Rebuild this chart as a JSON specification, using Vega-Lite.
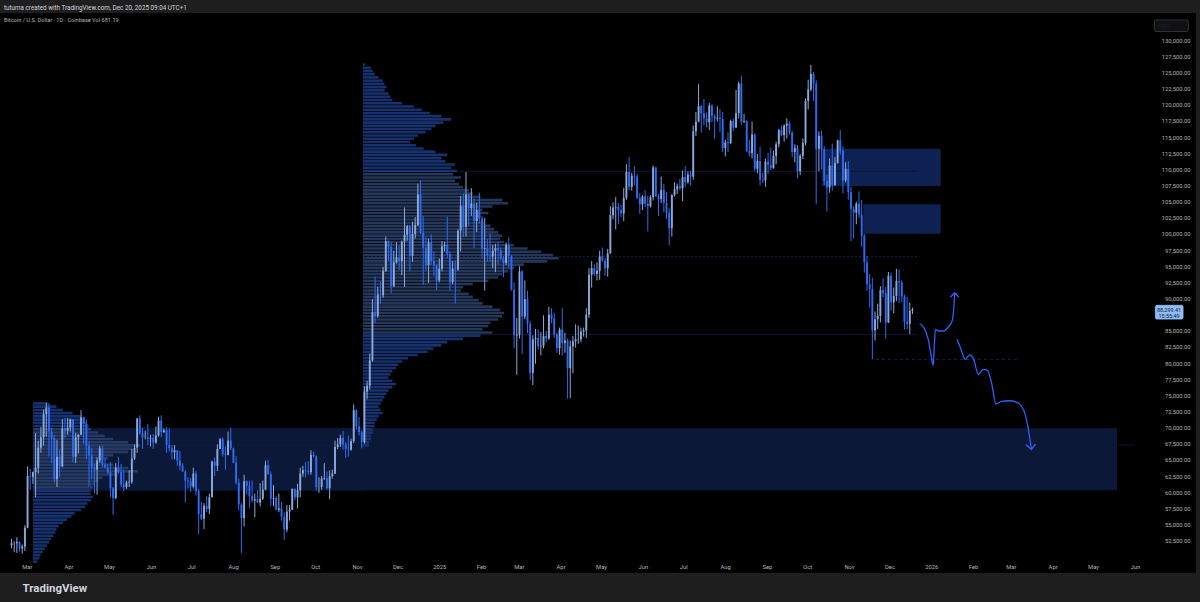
{
"$schema": "https://vega.github.io/schema/vega-lite/v6.json",
"width": 1196, "height": 560,
"autosize": {"type": "none"},
"padding": {"left": 0, "top": 13, "right": 4, "bottom": 29},
"background": "#1e1e1e",
"config": {
  "view": {"fill": "#000000", "stroke": null},
  "axis": {"grid": false, "domain": false, "ticks": false, "labelColor": "#b2b5be", "labelFont": "Roboto", "labelFontSize": 5.8, "zindex": 2}
},
"title": {"text": "tutuma created with TradingView.com, Dec 20, 2025 09:04 UTC+1", "subtitle": "Bitcoin / U.S. Dollar · 1D · Coinbase   Vol 681.19", "anchor": "start", "frame": "group", "orient": "top", "offset": -11, "dx": 4, "font": "Roboto", "fontSize": 6.3, "fontWeight": "normal", "color": "#d1d4dc", "subtitleFont": "Roboto", "subtitleFontSize": 5.6, "subtitleColor": "#b2b5be", "subtitlePadding": 7},
"resolve": {"scale": {"x": "independent"}, "axis": {"y": "independent"}},
"layer": [
  {
    "data": {"values": [
      {"zone": "demand", "s": "2024-03-05T12:00Z", "e": "2026-05-18T19:00Z", "lo": 60.3, "hi": 69.9},
      {"zone": "supply", "s": "2025-10-12T00:00Z", "e": "2026-01-08T00:00Z", "lo": 107.44, "hi": 113.22},
      {"zone": "supply", "s": "2025-11-11T12:00Z", "e": "2026-01-08T00:00Z", "lo": 100.03, "hi": 104.6}
    ]},
    "mark": {"type": "rect"},
    "encoding": {
      "x": {"field": "s", "type": "temporal", "scale": {"type": "utc", "domain": [{"year": 2024, "month": 2, "date": 10, "hours": 3, "utc": true}, {"year": 2026, "month": 7, "date": 16, "hours": 9, "utc": true}]},
        "axis": {"values": [{"year": 2024, "month": 3, "utc": true}, {"year": 2024, "month": 4, "utc": true}, {"year": 2024, "month": 5, "utc": true}, {"year": 2024, "month": 6, "utc": true}, {"year": 2024, "month": 7, "utc": true}, {"year": 2024, "month": 8, "utc": true}, {"year": 2024, "month": 9, "utc": true}, {"year": 2024, "month": 10, "utc": true}, {"year": 2024, "month": 11, "utc": true}, {"year": 2024, "month": 12, "utc": true}, {"year": 2025, "month": 1, "utc": true}, {"year": 2025, "month": 2, "utc": true}, {"year": 2025, "month": 3, "utc": true}, {"year": 2025, "month": 4, "utc": true}, {"year": 2025, "month": 5, "utc": true}, {"year": 2025, "month": 6, "utc": true}, {"year": 2025, "month": 7, "utc": true}, {"year": 2025, "month": 8, "utc": true}, {"year": 2025, "month": 9, "utc": true}, {"year": 2025, "month": 10, "utc": true}, {"year": 2025, "month": 11, "utc": true}, {"year": 2025, "month": 12, "utc": true}, {"year": 2026, "month": 1, "utc": true}, {"year": 2026, "month": 2, "utc": true}, {"year": 2026, "month": 3, "utc": true}, {"year": 2026, "month": 4, "utc": true}, {"year": 2026, "month": 5, "utc": true}, {"year": 2026, "month": 6, "utc": true}],
          "labelExpr": "utcFormat(datum.value, '%m') == '01' ? utcFormat(datum.value, '%Y') : utcFormat(datum.value, '%b')",
          "labelPadding": -6.3, "labelBaseline": "middle", "labelFlush": false, "labelOverlap": false, "labelBound": false,
          "title": "TradingView", "titleX": 22, "titleY": 15, "titleAlign": "left", "titleAnchor": "start", "titleBaseline": "middle", "titleFont": "Roboto", "titleFontSize": 11.5, "titleFontWeight": "bold", "titleColor": "#d1d4dc"}},
      "x2": {"field": "e"},
      "y": {"field": "lo", "type": "quantitative", "scale": {"domain": [48.26, 133.454], "nice": false, "zero": false},
        "axis": {"orient": "right", "values": [52.5, 55, 57.5, 60, 62.5, 65, 67.5, 70, 72.5, 75, 77.5, 80, 82.5, 85, 90, 92.5, 95, 97.5, 100, 102.5, 105, 107.5, 110, 112.5, 115, 117.5, 120, 122.5, 125, 127.5, 130],
          "labelExpr": "format(datum.value * 1000, ',.2f')", "labelAlign": "right", "labelPadding": -6, "labelBaseline": "middle", "labelOverlap": false, "labelBound": false, "labelFlush": false, "title": null}},
      "y2": {"field": "hi"},
      "color": {"field": "zone", "type": "nominal", "scale": {"domain": ["demand", "supply"], "range": ["#0b1838", "#0d2152"]}, "legend": null}
    }
  },
  {
    "data": {"values": [
      {"k": "va", "s": "2024-03-05T12:00Z", "e": "2024-11-05T10:00Z", "p": 69.9},
      {"k": "va", "s": "2024-03-05T12:00Z", "e": "2024-11-05T10:00Z", "p": 60.3},
      {"k": "va", "s": "2024-11-05T10:00Z", "e": "2025-12-21T10:00Z", "p": 109.7},
      {"k": "va", "s": "2024-11-05T10:00Z", "e": "2025-12-21T10:00Z", "p": 84.45},
      {"k": "poc", "s": "2024-03-05T12:00Z", "e": "2024-11-05T10:00Z", "p": 67.3},
      {"k": "pocext", "s": "2024-11-05T10:00Z", "e": "2026-05-31T10:00Z", "p": 67.3},
      {"k": "poc", "s": "2024-11-05T10:00Z", "e": "2025-12-21T10:00Z", "p": 96.5},
      {"k": "low", "s": "2025-11-21T00:00Z", "e": "2026-03-05T14:00Z", "p": 80.55}
    ]},
    "mark": {"type": "rule", "strokeWidth": 1},
    "encoding": {
      "x": {"field": "s", "type": "temporal", "scale": {"type": "utc", "domain": [{"year": 2024, "month": 2, "date": 10, "hours": 3, "utc": true}, {"year": 2026, "month": 7, "date": 16, "hours": 9, "utc": true}]}, "axis": null},
      "x2": {"field": "e"},
      "y": {"field": "p", "type": "quantitative", "scale": {"domain": [48.26, 133.454], "nice": false, "zero": false}, "axis": null},
      "color": {"field": "k", "type": "nominal", "scale": {"domain": ["va", "poc", "pocext", "low"], "range": ["#6a6d78", "#7a2d2d", "#3d3434", "#2a9cb0"]}, "legend": null},
      "strokeDash": {"field": "k", "type": "nominal", "scale": {"domain": ["va", "poc", "pocext", "low"], "range": [[1, 0], [2, 2], [1, 0], [3, 3]]}, "legend": null}
    }
  },
  {
    "data": {"values": "p,v\n73.75,14\n73.25,22\n72.75,28\n72.25,37\n71.75,45\n71.25,49\n70.75,50\n70.25,52\n69.75,54\n69.25,61\n68.75,67\n68.25,75\n67.75,89\n67.25,100\n66.75,93\n66.25,89\n65.75,75\n65.25,70\n64.75,65\n64.25,75\n63.75,89\n63.25,98\n62.75,79\n62.25,65\n61.75,61\n61.25,58\n60.75,56\n60.25,54\n59.75,54\n59.25,56\n58.75,54\n58.25,51\n57.75,49\n57.25,45\n56.75,39\n56.25,36\n55.75,32\n55.25,28\n54.75,24\n54.25,22\n53.75,21\n53.25,19\n52.75,17\n52.25,15\n51.75,13\n51.25,11\n50.75,9\n50.25,7\n49.75,6\n49.25,4", "format": {"type": "csv", "parse": {"p": "number", "v": "number"}}},
    "mark": {"type": "bar", "orient": "horizontal", "size": 2.6, "opacity": 0.85},
    "encoding": {
      "x": {"field": "v", "type": "quantitative", "scale": {"domain": [-30.84, 1086.9], "nice": false, "zero": false}, "axis": null},
      "y": {"field": "p", "type": "quantitative", "scale": {"domain": [48.26, 133.454], "nice": false, "zero": false}, "axis": null},
      "color": {"condition": {"test": "datum.p >= 60.3 && datum.p <= 69.9", "value": "#2a4068"}, "value": "#1a3980"}
    }
  },
  {
    "data": {"values": "p,v\n126.25,1\n125.75,4\n125.25,5\n124.75,6\n124.25,8\n123.75,10\n123.25,11\n122.75,12\n122.25,11\n121.75,13\n121.25,14\n120.75,15\n120.25,20\n119.75,26\n119.25,30\n118.75,34\n118.25,40\n117.75,45\n117.25,41\n116.75,37\n116.25,35\n115.75,32\n115.25,28\n114.75,26\n114.25,24\n113.75,27\n113.25,31\n112.75,37\n112.25,43\n111.75,40\n111.25,42\n110.75,47\n110.25,45\n109.75,48\n109.25,46\n108.75,50\n108.25,47\n107.75,49\n107.25,51\n106.75,54\n106.25,56\n105.75,60\n105.25,71\n104.75,74\n104.25,66\n103.75,61\n103.25,64\n102.75,60\n102.25,59\n101.75,62\n101.25,65\n100.75,67\n100.25,69\n99.75,71\n99.25,70\n98.75,72\n98.25,77\n97.75,84\n97.25,91\n96.75,97\n96.25,100\n95.75,94\n95.25,82\n94.75,77\n94.25,74\n93.75,71\n93.25,69\n92.75,64\n92.25,56\n91.75,51\n91.25,50\n90.75,54\n90.25,56\n89.75,59\n89.25,61\n88.75,66\n88.25,70\n87.75,72\n87.25,71\n86.75,69\n86.25,65\n85.75,64\n85.25,61\n84.75,66\n84.25,60\n83.75,51\n83.25,43\n82.75,40\n82.25,36\n81.75,33\n81.25,28\n80.75,23\n80.25,20\n79.75,18\n79.25,17\n78.75,15\n78.25,14\n77.75,13\n77.25,15\n76.75,17\n76.25,15\n75.75,13\n75.25,12\n74.75,11\n74.25,10\n73.75,9\n73.25,8\n72.75,9\n72.25,10\n71.75,8\n71.25,7\n70.75,6\n70.25,6\n69.75,5\n69.25,5\n68.75,4\n68.25,4\n67.75,3\n67.25,3", "format": {"type": "csv", "parse": {"p": "number", "v": "number"}}},
    "mark": {"type": "bar", "orient": "horizontal", "size": 2.6, "opacity": 0.85},
    "encoding": {
      "x": {"field": "v", "type": "quantitative", "scale": {"domain": [-185.2, 425.0], "nice": false, "zero": false}, "axis": null},
      "y": {"field": "p", "type": "quantitative", "scale": {"domain": [48.26, 133.454], "nice": false, "zero": false}, "axis": null},
      "color": {"condition": {"test": "datum.p >= 84.45 && datum.p <= 109.7", "value": "#2a4068"}, "value": "#1a3980"}
    }
  },
  {
    "layer": [
      {
        "data": {"values": "d,o,h,l,c\n2024-02-15,51.8,52.8,51.3,52.1\n2024-02-17,52.1,52.4,50.7,52.1\n2024-02-19,52.1,53.0,50.6,52.3\n2024-02-21,52.3,52.4,50.8,51.3\n2024-02-23,51.3,51.9,50.5,51.6\n2024-02-25,51.6,54.9,50.9,54.5\n2024-02-27,54.5,64.0,54.4,62.5\n2024-02-29,62.5,63.6,60.4,62.4\n2024-03-02,62.4,63.2,61.3,63.1\n2024-03-04,63.1,69.2,59.2,63.8\n2024-03-06,63.8,68.0,62.9,66.9\n2024-03-08,66.9,70.1,66.1,68.5\n2024-03-10,68.5,72.8,67.2,72.1\n2024-03-12,72.1,73.8,68.6,73.1\n2024-03-14,73.1,73.8,65.5,69.4\n2024-03-16,69.4,70.0,64.5,68.4\n2024-03-18,68.4,68.9,61.5,62.0\n2024-03-20,62.0,68.1,60.8,65.5\n2024-03-22,65.5,66.6,62.3,64.0\n2024-03-24,64.0,71.3,63.9,69.9\n2024-03-26,69.9,71.5,68.4,69.5\n2024-03-28,69.5,71.5,68.9,70.0\n2024-03-30,70.0,71.4,69.4,71.3\n2024-04-01,71.3,71.3,64.6,65.5\n2024-04-03,65.5,69.2,64.5,68.5\n2024-04-05,68.5,69.0,66.0,68.9\n2024-04-07,68.9,72.7,68.9,71.6\n2024-04-09,71.6,71.7,67.5,70.6\n2024-04-11,70.6,71.2,65.1,67.2\n2024-04-13,67.2,67.9,60.9,65.7\n2024-04-15,65.7,66.8,62.0,63.8\n2024-04-17,63.8,64.5,59.8,63.5\n2024-04-19,63.5,65.4,59.6,64.9\n2024-04-21,64.9,67.2,64.5,66.8\n2024-04-23,66.8,67.2,63.9,64.3\n2024-04-25,64.3,65.3,63.7,63.8\n2024-04-27,63.8,64.4,62.8,63.1\n2024-04-29,63.1,64.7,59.2,60.6\n2024-05-01,60.6,60.8,56.5,59.1\n2024-05-03,59.1,64.5,58.9,63.8\n2024-05-05,63.8,65.5,62.9,63.1\n2024-05-07,63.1,64.4,60.8,61.2\n2024-05-09,61.2,63.5,60.2,60.8\n2024-05-11,60.8,61.8,60.5,61.5\n2024-05-13,61.5,63.4,60.8,61.6\n2024-05-15,61.6,66.7,61.3,65.2\n2024-05-17,65.2,67.4,65.0,66.9\n2024-05-19,66.9,71.5,66.1,71.4\n2024-05-21,71.4,71.9,68.9,69.1\n2024-05-23,69.1,70.0,66.7,68.5\n2024-05-25,68.5,69.5,68.2,68.5\n2024-05-27,68.5,70.6,67.3,68.3\n2024-05-29,68.3,68.9,67.1,68.4\n2024-05-31,68.4,69.0,66.7,67.7\n2024-06-02,67.7,70.2,67.5,68.8\n2024-06-04,68.8,71.7,68.6,71.1\n2024-06-06,71.1,71.9,68.5,69.3\n2024-06-08,69.3,69.9,69.2,69.6\n2024-06-10,69.6,70.1,66.1,67.3\n2024-06-12,67.3,69.9,66.3,66.8\n2024-06-14,66.8,67.3,65.1,66.2\n2024-06-16,66.2,67.3,65.1,66.5\n2024-06-18,66.5,66.5,64.1,64.9\n2024-06-20,64.9,66.4,63.4,64.1\n2024-06-22,64.1,64.5,63.2,63.2\n2024-06-24,63.2,63.4,58.4,61.8\n2024-06-26,61.8,62.3,60.6,61.7\n2024-06-28,61.7,62.2,60.1,60.9\n2024-06-30,60.9,63.8,60.6,62.9\n2024-07-02,62.9,63.3,59.5,60.2\n2024-07-04,60.2,60.5,53.5,56.6\n2024-07-06,56.6,58.5,55.7,55.9\n2024-07-08,55.9,58.3,54.3,57.9\n2024-07-10,57.9,59.4,56.9,57.4\n2024-07-12,57.4,59.8,56.6,59.2\n2024-07-14,59.2,64.9,59.2,64.7\n2024-07-16,64.7,65.4,62.5,64.1\n2024-07-18,64.1,67.4,63.3,66.7\n2024-07-20,66.7,68.4,66.7,68.2\n2024-07-22,68.2,68.5,65.5,65.9\n2024-07-24,65.9,67.1,63.5,65.8\n2024-07-26,65.8,69.4,65.7,68.0\n2024-07-28,68.0,70.0,66.5,66.8\n2024-07-30,66.8,66.9,64.5,64.6\n2024-08-01,64.6,65.6,61.2,61.5\n2024-08-03,61.5,62.1,57.2,58.1\n2024-08-05,58.1,58.3,50.6,56.0\n2024-08-07,56.0,62.7,54.7,61.7\n2024-08-09,61.7,61.8,59.6,61.0\n2024-08-11,61.0,61.8,57.6,59.4\n2024-08-13,59.4,61.8,58.4,58.7\n2024-08-15,58.7,59.8,56.1,58.9\n2024-08-17,58.9,60.3,58.3,58.4\n2024-08-19,58.4,61.4,57.8,59.0\n2024-08-21,59.0,61.8,58.8,60.4\n2024-08-23,60.4,64.9,60.3,64.2\n2024-08-25,64.2,65.0,62.7,62.8\n2024-08-27,62.8,63.2,57.9,59.0\n2024-08-29,59.0,61.1,57.8,59.1\n2024-08-31,59.1,59.4,57.2,57.3\n2024-09-02,57.3,59.8,56.9,57.5\n2024-09-04,57.5,58.5,55.6,56.2\n2024-09-06,56.2,56.9,52.6,54.2\n2024-09-08,54.2,58.0,53.8,57.0\n2024-09-10,57.0,58.0,55.6,57.3\n2024-09-12,57.3,60.6,57.2,60.5\n2024-09-14,60.5,60.6,58.7,59.2\n2024-09-16,59.2,61.3,57.5,60.3\n2024-09-18,60.3,63.8,59.2,62.9\n2024-09-20,62.9,64.1,62.4,63.4\n2024-09-22,63.4,64.7,62.3,63.3\n2024-09-24,63.3,64.8,62.7,63.1\n2024-09-26,63.1,66.5,62.7,65.8\n2024-09-28,65.8,66.3,65.4,65.6\n2024-09-30,65.6,65.7,60.2,60.8\n2024-10-02,60.8,62.3,59.9,60.8\n2024-10-04,60.8,62.5,60.4,62.1\n2024-10-06,62.1,64.5,61.9,62.2\n2024-10-08,62.2,63.2,60.4,60.6\n2024-10-10,60.6,63.4,58.9,62.5\n2024-10-12,62.5,63.5,62.1,62.9\n2024-10-14,62.9,68.0,62.8,67.0\n2024-10-16,67.0,68.4,66.7,67.4\n2024-10-18,67.4,68.9,67.0,68.4\n2024-10-20,68.4,69.5,66.6,67.4\n2024-10-22,67.4,67.8,65.3,66.7\n2024-10-24,66.7,68.8,65.5,66.6\n2024-10-26,66.6,68.3,66.4,67.9\n2024-10-28,67.9,73.6,67.6,72.7\n2024-10-30,72.7,72.9,69.7,70.2\n2024-11-01,70.2,71.6,68.8,69.3\n2024-11-03,69.3,69.5,66.8,67.8\n2024-11-05,67.8,76.4,67.5,75.6\n2024-11-07,75.6,77.2,74.4,76.5\n2024-11-09,76.5,81.5,75.9,80.4\n2024-11-11,80.4,89.9,80.2,87.9\n2024-11-13,87.9,93.4,86.2,87.3\n2024-11-15,87.3,91.8,87.0,90.6\n2024-11-17,90.6,92.6,89.2,90.5\n2024-11-19,90.5,94.9,90.1,94.3\n2024-11-21,94.3,99.6,94.1,98.9\n2024-11-23,98.9,99.0,95.8,98.0\n2024-11-25,98.0,98.8,90.8,91.9\n2024-11-27,91.9,97.4,91.8,95.6\n2024-11-29,95.6,98.7,95.4,96.4\n2024-12-01,96.4,98.2,94.4,95.8\n2024-12-03,95.8,99.0,93.6,98.8\n2024-12-05,98.8,104.1,91.8,99.9\n2024-12-07,99.9,101.4,98.9,101.2\n2024-12-09,101.2,101.4,94.2,96.6\n2024-12-11,96.6,101.9,95.7,100.0\n2024-12-13,100.0,102.6,99.3,101.4\n2024-12-15,101.4,107.8,101.2,106.1\n2024-12-17,106.1,108.3,100.0,100.2\n2024-12-19,100.2,102.8,92.1,97.8\n2024-12-21,97.8,99.5,94.3,95.2\n2024-12-23,95.2,99.3,92.4,98.7\n2024-12-25,98.7,99.9,95.2,95.8\n2024-12-27,95.8,97.3,93.5,95.2\n2024-12-29,95.2,95.3,91.3,92.8\n2024-12-31,92.8,96.2,92.5,94.6\n2025-01-02,94.6,98.9,94.2,98.1\n2025-01-04,98.1,98.8,97.3,98.3\n2025-01-06,98.3,102.7,96.2,96.9\n2025-01-08,96.9,97.3,91.2,92.5\n2025-01-10,92.5,95.8,92.2,94.6\n2025-01-12,94.6,95.9,89.2,94.5\n2025-01-14,94.5,100.7,94.3,100.5\n2025-01-16,100.5,105.9,97.3,104.4\n2025-01-18,104.4,106.3,99.5,101.1\n2025-01-20,101.1,109.6,99.6,106.1\n2025-01-22,106.1,106.3,101.3,104.0\n2025-01-24,104.0,107.1,102.8,104.7\n2025-01-26,104.7,105.5,97.8,102.0\n2025-01-28,102.0,104.8,100.3,103.7\n2025-01-30,103.7,106.4,101.6,102.4\n2025-02-01,102.4,102.8,96.2,97.7\n2025-02-03,97.7,102.5,91.2,97.8\n2025-02-05,97.8,99.2,95.7,96.6\n2025-02-07,96.6,100.1,95.6,96.5\n2025-02-09,96.5,98.3,94.7,97.4\n2025-02-11,97.4,98.5,94.1,97.8\n2025-02-13,97.8,98.8,95.3,97.5\n2025-02-15,97.5,97.9,96.0,96.1\n2025-02-17,96.1,96.6,93.3,95.5\n2025-02-19,95.5,98.7,95.2,98.3\n2025-02-21,98.3,99.5,94.8,96.6\n2025-02-23,96.6,96.7,91.2,91.4\n2025-02-25,91.4,92.5,82.3,84.3\n2025-02-27,84.3,87.0,78.2,84.4\n2025-03-01,84.4,95.0,83.8,94.2\n2025-03-03,94.2,94.4,81.4,87.2\n2025-03-05,87.2,92.8,86.8,89.9\n2025-03-07,89.9,91.2,84.6,86.1\n2025-03-09,86.1,86.5,77.4,78.5\n2025-03-11,78.5,84.3,76.6,83.7\n2025-03-13,83.7,85.3,79.9,83.9\n2025-03-15,83.9,85.2,82.1,82.6\n2025-03-17,82.6,84.8,81.2,82.7\n2025-03-19,82.7,87.4,82.3,84.2\n2025-03-21,84.2,85.0,83.2,83.8\n2025-03-23,83.8,88.7,83.6,87.5\n2025-03-25,87.5,88.5,86.2,86.9\n2025-03-27,86.9,87.8,83.9,84.4\n2025-03-29,84.4,84.7,81.6,82.3\n2025-03-31,82.3,85.5,81.3,85.2\n2025-04-02,85.2,88.5,81.2,83.1\n2025-04-04,83.1,84.7,81.6,83.5\n2025-04-06,83.5,83.8,74.5,79.2\n2025-04-08,79.2,83.5,74.6,82.6\n2025-04-10,82.6,84.2,78.4,83.4\n2025-04-12,83.4,86.0,82.4,83.7\n2025-04-14,83.7,85.8,83.0,83.7\n2025-04-16,83.7,85.5,83.2,84.9\n2025-04-18,84.9,85.5,84.1,85.1\n2025-04-20,85.1,88.5,83.9,87.5\n2025-04-22,87.5,94.7,87.0,93.7\n2025-04-24,93.7,95.8,91.7,94.7\n2025-04-26,94.7,95.3,93.5,93.8\n2025-04-28,93.8,95.6,92.8,94.3\n2025-04-30,94.3,97.4,92.9,96.5\n2025-05-02,96.5,97.9,95.7,95.9\n2025-05-04,95.9,96.3,93.5,94.7\n2025-05-06,94.7,97.7,93.4,97.0\n2025-05-08,97.0,104.3,96.9,102.9\n2025-05-10,102.9,104.9,102.3,104.1\n2025-05-12,104.1,105.7,100.7,104.2\n2025-05-14,104.2,104.8,101.5,103.7\n2025-05-16,103.7,104.5,102.6,103.2\n2025-05-18,103.2,107.1,102.0,105.6\n2025-05-20,105.6,110.8,105.3,109.6\n2025-05-22,109.6,111.9,106.8,107.3\n2025-05-24,107.3,109.5,106.7,109.0\n2025-05-26,109.0,110.5,107.6,108.9\n2025-05-28,108.9,109.3,105.4,105.6\n2025-05-30,105.6,106.3,103.1,104.6\n2025-06-01,104.6,106.0,103.7,105.8\n2025-06-03,105.8,106.8,104.2,104.7\n2025-06-05,104.7,105.9,100.4,104.3\n2025-06-07,104.3,106.0,104.1,105.7\n2025-06-09,105.7,110.6,105.2,110.3\n2025-06-11,110.3,110.4,105.7,105.9\n2025-06-13,105.9,106.2,102.8,105.4\n2025-06-15,105.4,108.9,104.8,106.8\n2025-06-17,106.8,107.8,103.4,104.8\n2025-06-19,104.8,106.5,102.3,103.3\n2025-06-21,103.3,104.0,98.2,100.9\n2025-06-23,100.9,106.2,99.6,106.0\n2025-06-25,106.0,108.0,105.8,106.9\n2025-06-27,106.9,107.8,106.2,107.4\n2025-06-29,107.4,108.5,106.8,107.1\n2025-07-01,107.1,109.8,105.1,108.8\n2025-07-03,108.8,110.5,107.3,108.0\n2025-07-05,108.0,109.7,107.8,109.2\n2025-07-07,109.2,109.8,107.5,108.9\n2025-07-09,108.9,116.8,108.4,115.9\n2025-07-11,115.9,118.9,115.2,117.4\n2025-07-13,117.4,123.2,117.3,119.8\n2025-07-15,119.8,120.0,115.7,118.7\n2025-07-17,118.7,120.9,116.8,117.9\n2025-07-19,117.9,118.8,116.5,117.3\n2025-07-21,117.3,120.3,116.1,119.9\n2025-07-23,119.9,120.1,117.3,118.3\n2025-07-25,118.3,118.5,114.7,117.9\n2025-07-27,117.9,119.8,117.4,118.0\n2025-07-29,118.0,119.3,115.8,117.8\n2025-07-31,117.8,118.9,112.7,113.3\n2025-08-02,113.3,114.6,112.0,114.2\n2025-08-04,114.2,115.7,112.7,114.1\n2025-08-06,114.1,117.7,113.9,117.5\n2025-08-08,117.5,117.9,115.9,116.5\n2025-08-10,116.5,122.3,116.4,118.7\n2025-08-12,118.7,123.6,117.9,123.3\n2025-08-14,123.3,124.5,116.9,117.4\n2025-08-16,117.4,118.6,117.2,117.5\n2025-08-18,117.5,117.6,112.7,112.9\n2025-08-20,112.9,114.6,112.0,112.5\n2025-08-22,112.5,117.4,111.7,115.4\n2025-08-24,115.4,115.6,109.7,110.1\n2025-08-26,110.1,112.4,109.4,111.3\n2025-08-28,111.3,113.5,107.5,108.4\n2025-08-30,108.4,109.5,107.9,108.3\n2025-09-01,108.3,111.7,107.3,111.2\n2025-09-03,111.2,112.6,109.3,110.7\n2025-09-05,110.7,113.4,109.9,110.2\n2025-09-07,110.2,112.9,110.1,112.1\n2025-09-09,112.1,114.3,110.8,113.9\n2025-09-11,113.9,116.3,113.4,116.1\n2025-09-13,116.1,116.8,115.1,115.3\n2025-09-15,115.3,117.0,114.3,116.8\n2025-09-17,116.8,117.9,114.8,117.1\n2025-09-19,117.1,117.5,115.4,115.7\n2025-09-21,115.7,116.0,111.9,112.7\n2025-09-23,112.7,113.9,111.1,113.3\n2025-09-25,113.3,113.8,108.6,109.7\n2025-09-27,109.7,112.4,109.1,112.1\n2025-09-29,112.1,114.8,111.6,114.1\n2025-10-01,114.1,121.0,113.7,120.6\n2025-10-03,120.6,123.9,119.3,122.4\n2025-10-05,122.4,126.2,122.1,124.8\n2025-10-07,124.8,125.1,120.6,123.3\n2025-10-09,123.3,123.8,104.6,113.2\n2025-10-11,113.2,115.9,109.7,115.2\n2025-10-13,115.2,116.0,110.0,113.1\n2025-10-15,113.1,113.6,107.5,108.2\n2025-10-17,108.2,109.2,103.5,107.2\n2025-10-19,107.2,111.7,106.4,110.6\n2025-10-21,110.6,114.0,106.7,107.6\n2025-10-23,107.6,111.9,107.4,111.0\n2025-10-25,111.0,114.6,110.9,114.5\n2025-10-27,114.5,116.1,112.3,112.9\n2025-10-29,112.9,113.6,106.3,108.3\n2025-10-31,108.3,111.1,108.0,110.1\n2025-11-02,110.1,111.3,105.3,106.5\n2025-11-04,106.5,107.3,98.9,103.9\n2025-11-06,103.9,104.3,99.3,103.3\n2025-11-08,103.3,105.0,101.5,104.7\n2025-11-10,104.7,106.6,102.5,103.0\n2025-11-12,103.0,105.3,98.0,99.7\n2025-11-14,99.7,100.0,94.0,95.6\n2025-11-16,95.6,96.6,91.2,92.2\n2025-11-18,92.2,93.8,88.6,91.5\n2025-11-20,91.5,93.2,80.6,85.1\n2025-11-22,85.1,88.0,83.5,86.8\n2025-11-24,86.8,89.2,85.3,87.3\n2025-11-26,87.3,91.9,86.3,91.3\n2025-11-28,91.3,93.1,90.2,90.8\n2025-11-30,90.8,91.8,83.8,86.3\n2025-12-02,86.3,94.1,86.2,93.5\n2025-12-04,93.5,94.0,88.1,89.4\n2025-12-06,89.4,91.7,87.7,90.4\n2025-12-08,90.4,94.6,89.6,92.7\n2025-12-10,92.7,94.5,89.3,92.5\n2025-12-12,92.5,92.8,89.5,90.3\n2025-12-14,90.3,90.6,85.2,86.4\n2025-12-16,86.4,90.3,85.3,86.1\n2025-12-18,86.1,89.4,84.5,88.1\n2025-12-20,88.1,88.6,87.6,88.3", "format": {"type": "csv", "parse": {"d": "date", "o": "number", "h": "number", "l": "number", "c": "number"}}},
        "layer": [
          {
            "mark": {"type": "rule", "strokeWidth": 1},
            "encoding": {
              "x": {"field": "d", "type": "temporal", "scale": {"type": "utc", "domain": [{"year": 2024, "month": 2, "date": 10, "hours": 3, "utc": true}, {"year": 2026, "month": 7, "date": 16, "hours": 9, "utc": true}]}, "axis": null},
              "y": {"field": "l", "type": "quantitative", "scale": {"domain": [48.26, 133.454], "nice": false, "zero": false}, "axis": null},
              "y2": {"field": "h"},
              "color": {"condition": {"test": "datum.c >= datum.o", "value": "#8aa9da"}, "value": "#2d6bf3"}
            }
          },
          {
            "mark": {"type": "bar", "size": 1.9},
            "encoding": {
              "x": {"field": "d", "type": "temporal", "scale": {"type": "utc", "domain": [{"year": 2024, "month": 2, "date": 10, "hours": 3, "utc": true}, {"year": 2026, "month": 7, "date": 16, "hours": 9, "utc": true}]}, "axis": null},
              "y": {"field": "o", "type": "quantitative", "scale": {"domain": [48.26, 133.454], "nice": false, "zero": false}, "axis": null},
              "y2": {"field": "c"},
              "color": {"condition": {"test": "datum.c >= datum.o", "value": "#8aa9da"}, "value": "#2d6bf3"}
            }
          }
        ]
      },
      {
        "data": {"values": [
          {"g": "a", "i": 1, "t": "2025-12-25T08:00Z", "p": 86.09},
          {"g": "a", "i": 2, "t": "2025-12-28T14:00Z", "p": 85.48},
          {"g": "a", "i": 3, "t": "2025-12-31T18:00Z", "p": 83.70},
          {"g": "a", "i": 4, "t": "2026-01-03T00:00Z", "p": 81.16},
          {"g": "a", "i": 5, "t": "2026-01-04T12:00Z", "p": 79.64},
          {"g": "a", "i": 6, "t": "2026-01-05T11:00Z", "p": 83.20},
          {"g": "a", "i": 7, "t": "2026-01-06T05:00Z", "p": 85.23},
          {"g": "a", "i": 8, "t": "2026-01-08T17:00Z", "p": 84.97},
          {"g": "a", "i": 9, "t": "2026-01-11T22:00Z", "p": 84.97},
          {"g": "a", "i": 10, "t": "2026-01-15T09:00Z", "p": 85.48},
          {"g": "a", "i": 11, "t": "2026-01-18T14:00Z", "p": 86.49},
          {"g": "a", "i": 12, "t": "2026-01-19T20:00Z", "p": 88.27},
          {"g": "a", "i": 13, "t": "2026-01-20T14:00Z", "p": 90.81},
          {"g": "b", "i": 1, "t": "2026-01-22T07:00Z", "p": 83.70},
          {"g": "b", "i": 2, "t": "2026-01-25T06:00Z", "p": 82.18},
          {"g": "b", "i": 3, "t": "2026-01-28T11:00Z", "p": 80.55},
          {"g": "b", "i": 4, "t": "2026-01-31T17:00Z", "p": 81.27},
          {"g": "b", "i": 5, "t": "2026-02-03T16:00Z", "p": 80.66},
          {"g": "b", "i": 6, "t": "2026-02-07T09:00Z", "p": 78.23},
          {"g": "b", "i": 7, "t": "2026-02-11T02:00Z", "p": 79.03},
          {"g": "b", "i": 8, "t": "2026-02-14T01:00Z", "p": 78.88},
          {"g": "b", "i": 9, "t": "2026-02-17T06:00Z", "p": 76.86},
          {"g": "b", "i": 10, "t": "2026-02-20T11:00Z", "p": 73.66},
          {"g": "b", "i": 11, "t": "2026-02-24T16:00Z", "p": 74.07},
          {"g": "b", "i": 12, "t": "2026-03-02T20:00Z", "p": 74.17},
          {"g": "b", "i": 13, "t": "2026-03-09T01:00Z", "p": 73.82},
          {"g": "b", "i": 14, "t": "2026-03-13T23:00Z", "p": 72.29},
          {"g": "b", "i": 15, "t": "2026-03-16T12:00Z", "p": 70.01},
          {"g": "b", "i": 16, "t": "2026-03-18T22:00Z", "p": 66.71}
        ]},
        "mark": {"type": "line", "interpolate": "monotone", "strokeWidth": 1.3, "color": "#2962ff"},
        "encoding": {
          "x": {"field": "t", "type": "temporal", "scale": {"type": "utc", "domain": [{"year": 2024, "month": 2, "date": 10, "hours": 3, "utc": true}, {"year": 2026, "month": 7, "date": 16, "hours": 9, "utc": true}]}, "axis": null},
          "y": {"field": "p", "type": "quantitative", "scale": {"domain": [48.26, 133.454], "nice": false, "zero": false}, "axis": null},
          "detail": {"field": "g", "type": "nominal"},
          "order": {"field": "i", "type": "quantitative"}
        }
      },
      {
        "data": {"values": [
          {"g": "a", "i": 1, "t": "2026-01-17T07:00Z", "p": 90.20},
          {"g": "a", "i": 2, "t": "2026-01-20T14:00Z", "p": 90.90},
          {"g": "a", "i": 3, "t": "2026-01-23T18:00Z", "p": 90.20},
          {"g": "b", "i": 1, "t": "2026-03-14T17:00Z", "p": 67.38},
          {"g": "b", "i": 2, "t": "2026-03-18T22:00Z", "p": 66.62},
          {"g": "b", "i": 3, "t": "2026-03-22T03:00Z", "p": 67.47}
        ]},
        "mark": {"type": "line", "strokeWidth": 1.3, "color": "#2962ff"},
        "encoding": {
          "x": {"field": "t", "type": "temporal", "scale": {"type": "utc", "domain": [{"year": 2024, "month": 2, "date": 10, "hours": 3, "utc": true}, {"year": 2026, "month": 7, "date": 16, "hours": 9, "utc": true}]}, "axis": null},
          "y": {"field": "p", "type": "quantitative", "scale": {"domain": [48.26, 133.454], "nice": false, "zero": false}, "axis": null},
          "detail": {"field": "g", "type": "nominal"},
          "order": {"field": "i", "type": "quantitative"}
        }
      },
      {
        "data": {"values": [
          {"kind": "price", "s": "2026-06-19T17:00Z", "e": "2026-07-10T10:00Z", "lo": 86.82, "hi": 88.95},
          {"kind": "currency", "s": "2026-06-19T02:00Z", "e": "2026-07-14T10:00Z", "lo": 131.37, "hi": 133.15}
        ]},
        "mark": {"type": "rect", "cornerRadius": 1.5, "strokeWidth": 0.8},
        "encoding": {
          "x": {"field": "s", "type": "temporal", "scale": {"type": "utc", "domain": [{"year": 2024, "month": 2, "date": 10, "hours": 3, "utc": true}, {"year": 2026, "month": 7, "date": 16, "hours": 9, "utc": true}]}, "axis": null},
          "x2": {"field": "e"},
          "y": {"field": "lo", "type": "quantitative", "scale": {"domain": [48.26, 133.454], "nice": false, "zero": false}, "axis": null},
          "y2": {"field": "hi"},
          "fill": {"field": "kind", "type": "nominal", "scale": {"domain": ["price", "currency"], "range": ["#8fbdf4", "#111111"]}, "legend": null},
          "stroke": {"field": "kind", "type": "nominal", "scale": {"domain": ["price", "currency"], "range": ["#8fbdf4", "#3a3d45"]}, "legend": null}
        }
      },
      {
        "data": {"values": [
          {"kind": "price", "t": "88,299.41", "x": "2026-06-30T00:00Z", "p": 88.25},
          {"kind": "price", "t": "15:55:49", "x": "2026-06-30T00:00Z", "p": 87.35},
          {"kind": "currency", "t": "USD", "x": "2026-06-26T00:00Z", "p": 132.26}
        ]},
        "mark": {"type": "text", "font": "Roboto", "fontSize": 5.5, "align": "center", "baseline": "middle"},
        "encoding": {
          "x": {"field": "x", "type": "temporal", "scale": {"type": "utc", "domain": [{"year": 2024, "month": 2, "date": 10, "hours": 3, "utc": true}, {"year": 2026, "month": 7, "date": 16, "hours": 9, "utc": true}]}, "axis": null},
          "y": {"field": "p", "type": "quantitative", "scale": {"domain": [48.26, 133.454], "nice": false, "zero": false}, "axis": null},
          "text": {"field": "t", "type": "nominal"},
          "color": {"field": "kind", "type": "nominal", "scale": {"domain": ["price", "currency"], "range": ["#0d1b38", "#d1d4dc"]}, "legend": null}
        }
      }
    ]
  }
]
}
